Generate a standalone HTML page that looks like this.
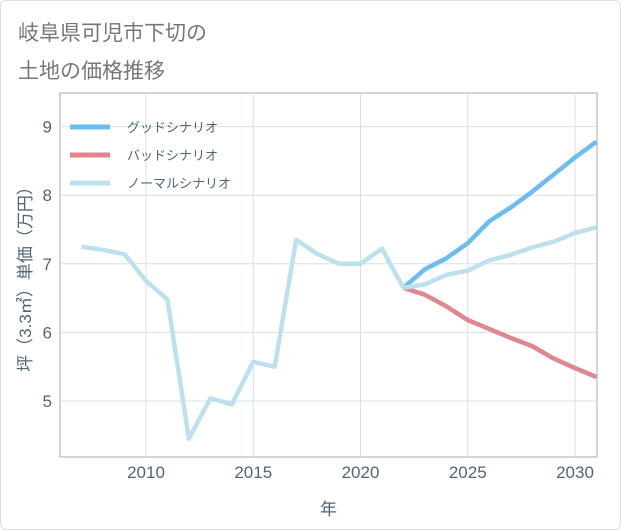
<!DOCTYPE html>
<html><head><meta charset="utf-8"><style>
body{margin:0;background:#fff;font-family:"Liberation Sans","Noto Sans CJK JP",sans-serif;}
#wrap{position:relative;width:619px;height:528px;border:1px solid #ddd;border-radius:6px;background:#fff;}
</style></head><body>
<div id="wrap">
<svg id="chart" width="621" height="530" style="position:absolute;left:-1px;top:-1px">
<text x="18" y="40" font-size="21" fill="#777">岐阜県可児市下切の</text>
<text x="18" y="78" font-size="21" fill="#777">土地の価格推移</text>
<g id="grid"></g><g id="lines"></g><g id="axes"></g><g id="legend"></g>
</svg></div>
<script>
const years=[2007,2008,2009,2010,2011,2012,2013,2014,2015,2016,2017,2018,2019,2020,2021,2022];
const hist=[7.25,7.2,7.14,6.75,6.48,4.45,5.04,4.95,5.57,5.5,7.35,7.14,7.0,7.0,7.22,6.65];
const futYears=[2022,2023,2024,2025,2026,2027,2028,2029,2030,2031];
const good=[6.65,6.92,7.08,7.3,7.62,7.82,8.05,8.3,8.55,8.78];
const bad=[6.65,6.55,6.38,6.18,6.05,5.92,5.8,5.62,5.48,5.35];
const normal=[6.65,6.7,6.84,6.9,7.05,7.13,7.24,7.32,7.45,7.53];
const xTicks=[2010,2015,2020,2025,2030];
const yTicks=[5,6,7,8,9];
const L=60,R=597,T=93,B=457;
const x=v=>146+(v-2010)*21.45;
const y=v=>401-(v-5)*68.6;
const NS='http://www.w3.org/2000/svg';
function mk(tag,attrs,parent){const e=document.createElementNS(NS,tag);for(const k in attrs)e.setAttribute(k,attrs[k]);parent.appendChild(e);return e;}
const grid=document.getElementById('grid'),axes=document.getElementById('axes'),lines=document.getElementById('lines'),leg=document.getElementById('legend');
const bg=mk('rect',{x:L,y:T,width:R-L,height:B-T,fill:'#fff',stroke:'#aaa'},grid);


xTicks.forEach(t=>{
 const g=mk('line',{x1:x(t),x2:x(t),y1:T,y2:B,stroke:'#d5e0ea'},grid);
 
 
 const s=mk('text',{x:x(t),y:B+21,'font-size':17,fill:'#50657a','text-anchor':'middle'},axes);s.textContent=t;
 
 
});
yTicks.forEach(t=>{
 const g=mk('line',{x1:L,x2:R,y1:y(t),y2:y(t),stroke:'#d5e0ea'},grid);
 
 
 const s=mk('text',{x:L-8,y:y(t)+6,'font-size':17,fill:'#50657a','text-anchor':'end'},axes);s.textContent=t;
 
 
});
const xt=mk('text',{x:(L+R)/2,y:515,'font-size':17,fill:'#50657a','text-anchor':'middle'},axes);xt.textContent='年';


const yt=mk('text',{x:0,y:0,'font-size':17,fill:'#50657a','text-anchor':'middle',transform:'translate(31,275) rotate(-90)'},axes);yt.textContent='坪（3.3㎡）単価（万円）';


function line(xs,vs,color,name){
 const p=mk('polyline',{points:xs.map((v,i)=>x(v)+','+y(vs[i])).join(' '),fill:'none',stroke:color,'stroke-width':4.5,'stroke-linejoin':'round'},lines);
 
 
}
line(futYears,good,'#6bbcf0','good-scenario-line');
line(futYears,bad,'#e0868c','bad-scenario-line');
line(futYears,normal,'#bde0ee','normal-scenario-line');
line(years,hist,'#bde0ee','historical-line');
[['グッドシナリオ','#6bbcf0',127],['バッドシナリオ','#e0868c',155],['ノーマルシナリオ','#bde0ee',183]].forEach(([n,c,yy])=>{
 const l=mk('line',{x1:70,x2:110,y1:yy,y2:yy,stroke:c,'stroke-width':5},leg);
 
 
 const s=mk('text',{x:127,y:yy+5,'font-size':13,fill:'#50657a'},leg);s.textContent=n;
 
 
});
</script></body></html>
